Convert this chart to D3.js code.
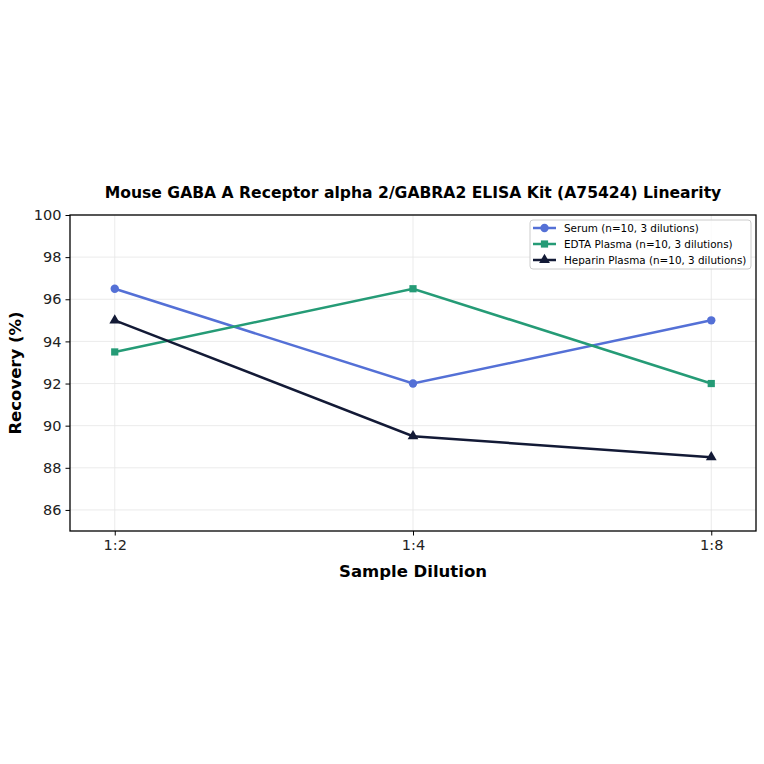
<!DOCTYPE html>
<html lang="en">
<head>
<meta charset="UTF-8">
<title>GABRA2 ELISA Linearity</title>
<script src="https://d3js.org/d3.v7.min.js"></script>
<style>
    body { margin: 0; background: #fff; font-family: "DejaVu Sans", sans-serif; }
</style>
</head>
<body>
<div id="chart"></div>
<script>
    // chart data
    const dilutions = ["1:2", "1:4", "1:8"];
    const serum = [96.5, 92.0, 95.0];
    const edta = [93.5, 96.5, 92.0];
    const heparin = [95.0, 89.5, 88.5];
    const seriesNames = ["Serum (n=10, 3 dilutions)", "EDTA Plasma (n=10, 3 dilutions)", "Heparin Plasma (n=10, 3 dilutions)"];
    const seriesColors = ["#5470d6", "#259b76", "#131a36"];
    const yTicks = [86, 88, 90, 92, 94, 96, 98, 100];

    const width = 764, height = 764;
    const plotLeft = 70, plotRight = 756, plotTop = 215, plotBottom = 531;

    const svg = d3.select("#chart").append("svg")
        .attr("width", width)
        .attr("height", height);

    const x = d3.scaleLinear().domain([-0.15, 2.15]).range([plotLeft, plotRight]);
    const y = d3.scaleLinear().domain([85, 100]).range([plotBottom, plotTop]);

    // grid
    svg.append("g").selectAll("line")
        .data(yTicks).enter().append("line")
        .attr("x1", plotLeft).attr("x2", plotRight)
        .attr("y1", d => y(d)).attr("y2", d => y(d))
        .attr("stroke", "#e6e6e6").attr("stroke-width", 0.8);
    svg.append("g").selectAll("line")
        .data(dilutions).enter().append("line")
        .attr("x1", (d, i) => x(i)).attr("x2", (d, i) => x(i))
        .attr("y1", plotTop).attr("y2", plotBottom)
        .attr("stroke", "#e6e6e6").attr("stroke-width", 0.8);

    // axes
    const yAxis = svg.append("g")
        .attr("transform", `translate(${plotLeft},0)`)
        .call(d3.axisLeft(y).tickValues(yTicks).tickSize(4.5).tickPadding(4));
    const xAxis = svg.append("g")
        .attr("transform", `translate(0,${plotBottom})`)
        .call(d3.axisBottom(x).tickValues([0, 1, 2]).tickFormat(i => dilutions[i]).tickSize(4.5).tickPadding(4));
    [xAxis, yAxis].forEach(a => {
        a.select(".domain").remove();
        a.selectAll("text").attr("font-size", 14.5).attr("fill", "#222").attr("font-family", "DejaVu Sans");
        a.selectAll("line").attr("stroke", "#000");
    });

    // frame
    svg.append("rect")
        .attr("x", plotLeft).attr("y", plotTop)
        .attr("width", plotRight - plotLeft).attr("height", plotBottom - plotTop)
        .attr("fill", "none").attr("stroke", "#000").attr("stroke-width", 1.3);

    // lines and markers
    const allSeries = [serum, edta, heparin];
    const line = d3.line().x((d, i) => x(i)).y(d => y(d));
    const shapes = [d3.symbolCircle, d3.symbolSquare, d3.symbolTriangle];
    const sizes = [55, 52, 50];

    allSeries.forEach((vals, s) => {
        svg.append("path")
            .datum(vals)
            .attr("d", line)
            .attr("fill", "none")
            .attr("stroke", seriesColors[s])
            .attr("stroke-width", 2.5);
        svg.append("g").selectAll("path")
            .data(vals).enter().append("path")
            .attr("transform", (d, i) => `translate(${x(i)},${y(d)})`)
            .attr("d", d3.symbol().type(shapes[s]).size(sizes[s]))
            .attr("fill", seriesColors[s]);
    });

    // legend
    const lg = svg.append("g").attr("transform", "translate(530,220)");
    lg.append("rect")
        .attr("width", 221).attr("height", 49).attr("rx", 3)
        .attr("fill", "#fff").attr("fill-opacity", 0.8)
        .attr("stroke", "#ccc");
    seriesNames.forEach((name, s) => {
        const ly = 8 + s * 16;
        lg.append("line")
            .attr("x1", 3).attr("x2", 26).attr("y1", ly).attr("y2", ly)
            .attr("stroke", seriesColors[s]).attr("stroke-width", 2.5);
        lg.append("path")
            .attr("transform", `translate(14.5,${ly})`)
            .attr("d", d3.symbol().type(shapes[s]).size(sizes[s]))
            .attr("fill", seriesColors[s]);
        lg.append("text")
            .attr("x", 34).attr("y", ly + 4)
            .attr("font-size", 10.4)
            .text(name);
    });

    // title and labels
    svg.append("text")
        .attr("x", (plotLeft + plotRight) / 2).attr("y", 198)
        .attr("text-anchor", "middle")
        .attr("font-size", 15.6).attr("font-weight", "bold")
        .text("Mouse GABA A Receptor alpha 2/GABRA2 ELISA Kit (A75424) Linearity");
    svg.append("text")
        .attr("x", (plotLeft + plotRight) / 2).attr("y", 577)
        .attr("text-anchor", "middle")
        .attr("font-size", 16.5).attr("font-weight", "bold")
        .text("Sample Dilution");
    svg.append("text")
        .attr("transform", `translate(21,${(plotTop + plotBottom) / 2}) rotate(-90)`)
        .attr("text-anchor", "middle")
        .attr("font-size", 16.5).attr("font-weight", "bold")
        .text("Recovery (%)");
</script>
</body>
</html>
